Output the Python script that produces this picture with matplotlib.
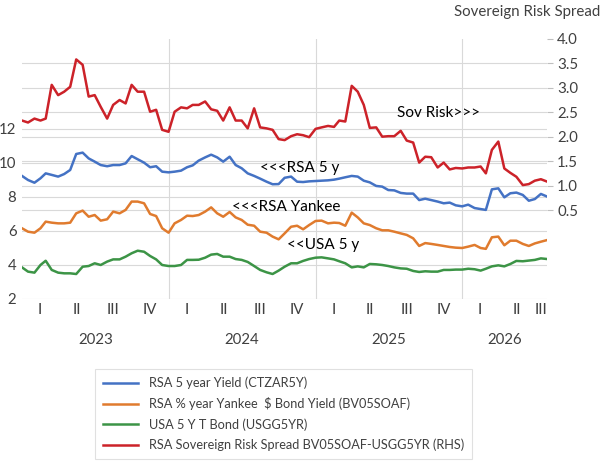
import pandas as pd
import matplotlib.pyplot as plt
from matplotlib.transforms import blended_transform_factory

plt.rcParams['font.family'] = ['Lato', 'DejaVu Sans']

# semi-monthly sample dates (1st and 16th of each month)
months = pd.date_range("2023-01-01", "2026-07-01", freq="MS")
dates = []
for m in months:
    dates.append(m)
    dates.append(m + pd.Timedelta(days=15))
dates.append(pd.Timestamp("2026-08-01"))

rsa_5y = [9.24, 9.00, 8.84, 9.10, 9.39, 9.30, 9.20, 9.35, 9.59, 10.53,
          10.61, 10.27, 10.08, 9.88, 9.81, 9.88, 9.88, 9.98, 10.41, 10.22,
          10.02, 9.75, 9.81, 9.49, 9.45, 9.49, 9.55, 9.75, 9.86, 10.14,
          10.33, 10.49, 10.33, 10.08, 10.37, 9.88, 9.69, 9.39, 9.24, 9.08,
          8.90, 8.75, 8.76, 9.13, 9.20, 8.90, 8.88, 8.92, 8.94, 8.96,
          8.98, 9.02, 9.08, 9.16, 9.24, 9.20, 8.96, 8.86, 8.65, 8.61,
          8.41, 8.39, 8.24, 8.20, 8.20, 7.82, 7.90, 7.82, 7.73, 7.63,
          7.67, 7.51, 7.45, 7.55, 7.35, 7.29, 7.24, 8.45, 8.51, 7.98,
          8.22, 8.26, 8.12, 7.78, 7.88, 8.18, 8.02]

rsa_yankee = [6.16, 5.96, 5.90, 6.16, 6.55, 6.49, 6.45, 6.45, 6.49, 7.04,
              7.20, 6.84, 6.94, 6.61, 6.69, 7.14, 7.04, 7.24, 7.73, 7.73,
              7.63, 7.00, 6.88, 6.16, 5.90, 6.45, 6.65, 6.90, 6.88, 6.94,
              7.14, 7.39, 7.04, 6.84, 7.12, 6.80, 6.65, 6.37, 6.31, 5.96,
              5.90, 5.67, 5.51, 5.86, 6.25, 6.31, 6.10, 6.35, 6.59, 6.61,
              6.45, 6.49, 6.47, 6.31, 7.08, 6.80, 6.45, 6.35, 6.16, 6.04,
              6.04, 5.96, 5.86, 5.77, 5.57, 5.12, 5.29, 5.24, 5.18, 5.12,
              5.06, 5.02, 5.00, 5.08, 5.18, 5.00, 4.95, 5.63, 5.67, 5.16,
              5.43, 5.43, 5.24, 5.12, 5.27, 5.37, 5.47]

usa_5y = [3.86, 3.61, 3.55, 4.00, 4.25, 3.71, 3.55, 3.51, 3.51, 3.47,
          3.90, 3.94, 4.10, 4.00, 4.20, 4.33, 4.33, 4.49, 4.69, 4.84,
          4.78, 4.53, 4.33, 4.00, 3.94, 3.94, 4.00, 4.30, 4.30, 4.31,
          4.43, 4.61, 4.65, 4.49, 4.49, 4.35, 4.30, 4.18, 3.94, 3.71,
          3.57, 3.47, 3.67, 3.90, 4.10, 4.10, 4.24, 4.35, 4.43, 4.45,
          4.39, 4.33, 4.22, 4.10, 3.86, 3.92, 3.86, 4.06, 4.04, 4.00,
          3.94, 3.86, 3.80, 3.78, 3.65, 3.59, 3.63, 3.61, 3.61, 3.71,
          3.71, 3.73, 3.73, 3.78, 3.75, 3.67, 3.78, 3.92, 3.98, 3.92,
          4.06, 4.24, 4.22, 4.26, 4.30, 4.39, 4.35]

sov_spread = [2.33, 2.29, 2.37, 2.33, 2.37, 3.06, 2.85, 2.92, 3.02, 3.58,
              3.47, 2.82, 2.85, 2.61, 2.37, 2.65, 2.75, 2.68, 3.06, 2.92,
              2.92, 2.51, 2.55, 2.14, 2.10, 2.51, 2.60, 2.58, 2.65, 2.65,
              2.72, 2.56, 2.53, 2.33, 2.60, 2.33, 2.33, 2.17, 2.58, 2.19,
              2.17, 2.14, 1.95, 1.93, 2.01, 2.05, 2.03, 1.99, 2.16, 2.19,
              2.22, 2.20, 2.33, 2.31, 3.04, 2.92, 2.65, 2.18, 2.19, 2.00,
              2.01, 2.01, 2.12, 1.92, 1.88, 1.47, 1.59, 1.58, 1.37, 1.47,
              1.33, 1.36, 1.35, 1.37, 1.37, 1.39, 1.25, 1.73, 1.90, 1.35,
              1.26, 1.18, 1.01, 1.03, 1.10, 1.13, 1.08]

series_labels = ["RSA 5 year Yield (CTZAR5Y)",
                 "RSA % year Yankee  $ Bond Yield (BV05SOAF)",
                 "USA 5 Y T Bond (USGG5YR)",
                 "RSA Sovereign Risk Spread BV05SOAF-USGG5YR (RHS)"]
left_ticks = [2, 4, 6, 8, 10, 12]
right_ticks = [0.5, 1.0, 1.5, 2.0, 2.5, 3.0, 3.5, 4.0]
years = [2023, 2024, 2025, 2026]
quarter_names = ["I", "II", "III", "IV"]

BLUE = "#4472C4"
ORANGE = "#E07B2E"
GREEN = "#3C9446"
RED = "#CC2229"
GRID = "#D9D9D9"
TEXT = "#404040"


def quarter_label_positions(start, end):
    """
    Centers of every quarter (clipped to the visible range) and of every year
    """
    quarters = []
    for q in pd.period_range(start, end - pd.Timedelta(days=1), freq="Q"):
        a = max(q.start_time, start)
        b = min(q.end_time, end)
        quarters.append((a + (b - a) / 2, quarter_names[q.quarter - 1]))
    year_pos = []
    for y in years:
        a = max(pd.Timestamp(f"{y}-01-01"), start)
        b = min(pd.Timestamp(f"{y + 1}-01-01"), end)
        year_pos.append((a + (b - a) / 2, str(y)))
    return quarters, year_pos


def main():
    fig = plt.figure(figsize=(6.03, 4.62), dpi=100)
    ax = fig.add_axes([22 / 603, 1 - 299 / 462, (547.3 - 22) / 603, (299 - 38.9) / 462])
    ax2 = ax.twinx()

    start = pd.Timestamp("2023-01-01")
    end = pd.Timestamp("2026-08-01")

    l1, = ax.plot(dates, rsa_5y, color=BLUE, lw=1.8)
    l2, = ax.plot(dates, rsa_yankee, color=ORANGE, lw=1.8)
    l3, = ax.plot(dates, usa_5y, color=GREEN, lw=1.8)
    l4, = ax2.plot(dates, sov_spread, color=RED, lw=1.8)

    ax.set_xlim(start, end)
    ax.set_ylim(2, 17.3)
    ax.set_yticks(left_ticks)
    ax2.set_ylim(-1.32, 4.0)
    ax2.set_yticks(right_ticks)
    ax2.set_yticklabels([f"{v:.1f}" for v in right_ticks])

    # gridlines (all drawn on the lower axes, so they stay under the lines)
    ax.yaxis.grid(True, color=GRID, lw=0.8)
    ax.set_axisbelow(True)
    tr = blended_transform_factory(ax.transAxes, ax2.transData)
    for r in right_ticks[:-1]:
        ax.plot([0, 1], [r, r], transform=tr, color=GRID, lw=0.8, zorder=0.5)
    for y in years[1:]:
        ax.axvline(pd.Timestamp(f"{y}-01-01"), color=GRID, lw=0.8, zorder=0.5)

    for a in (ax, ax2):
        for s in a.spines.values():
            s.set_visible(False)
    ax.tick_params(axis="y", length=0, pad=4, labelsize=10.8, labelcolor=TEXT)
    ax2.tick_params(axis="y", length=4, width=0.8, color="#BFBFBF", pad=3,
                    labelsize=10.8, labelcolor=TEXT)
    ax.set_xticks([])

    # two level category axis: quarters and years
    quarters, year_pos = quarter_label_positions(start, end)
    xt = blended_transform_factory(ax.transData, ax.transAxes)
    for d, name in quarters:
        ax.text(d, -0.042, name, transform=xt, ha="center", va="center",
                fontsize=10.8, color=TEXT)
    for d, name in year_pos:
        ax.text(d, -0.158, name, transform=xt, ha="center", va="center",
                fontsize=10.8, color=TEXT)

    # in-chart labels
    ax.text(pd.Timestamp("2024-08-16"), 9.71, "<<<RSA 5 y", fontsize=11, va="center")
    ax.text(pd.Timestamp("2024-06-08"), 7.41, "<<<RSA Yankee", fontsize=11, va="center")
    ax.text(pd.Timestamp("2024-10-23"), 5.18, "<<USA 5 y", fontsize=11, va="center")
    ax2.text(pd.Timestamp("2025-07-23"), 2.48, "Sov Risk>>>", fontsize=11, va="center")

    fig.text(600 / 603, 1 - 12 / 462, "Sovereign Risk Spread", ha="right",
             va="center", fontsize=10.8, color=TEXT)

    leg = fig.legend([l1, l2, l3, l4], series_labels, loc="upper left",
                     bbox_to_anchor=(95 / 603, 1 - 369 / 462), fontsize=9.2,
                     handlelength=2.8, labelspacing=0.62, borderaxespad=0,
                     fancybox=False, edgecolor=GRID, borderpad=0.6)
    leg.get_frame().set_linewidth(0.8)
    for t in leg.get_texts():
        t.set_color(TEXT)

    fig.savefig("out.png", dpi=100)


if __name__ == "__main__":
    main()
